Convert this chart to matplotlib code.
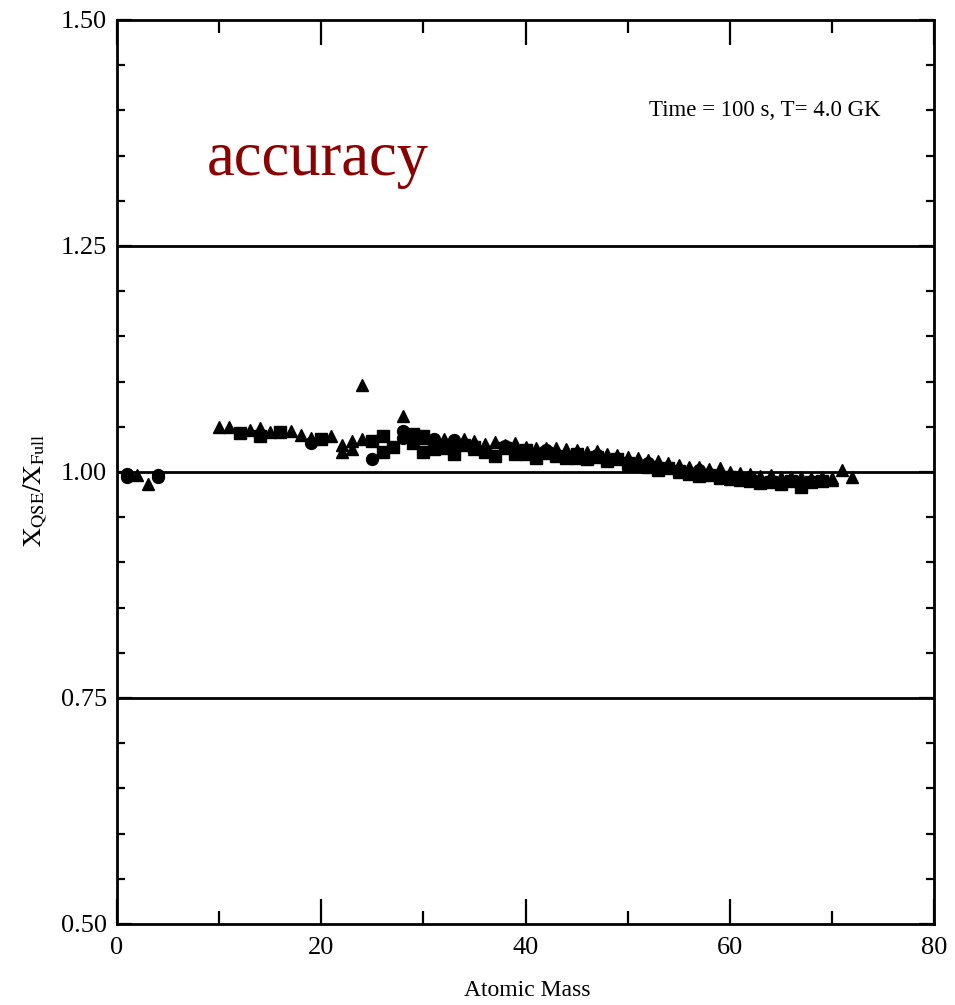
import matplotlib
matplotlib.use("Agg")
import matplotlib.pyplot as plt
from matplotlib.ticker import MultipleLocator

plt.rcParams['font.family'] = ['Liberation Serif', 'DejaVu Serif']
plt.rcParams['mathtext.fontset'] = 'stix'

# ---- data ----
tri_A = [2, 3,
         10, 11, 13, 14, 15, 17, 18, 19, 21, 22, 22, 23, 23, 24, 24, 28,
         30, 31, 32, 33, 34, 35, 36, 37, 38, 39, 40, 41, 42, 43, 44, 45,
         46, 47, 48, 49, 50, 51, 52, 53, 54, 55, 56, 57, 58, 59, 60, 61,
         62, 63, 64, 65, 66, 67, 68, 69, 70, 71, 72,
         35, 40, 45, 50, 55, 60, 65, 70]
tri_y = [0.997, 0.987,
         1.050, 1.050, 1.047, 1.049, 1.044, 1.045, 1.041, 1.038, 1.040, 1.030, 1.022, 1.034, 1.025, 1.036, 1.096, 1.062,
         1.038, 1.036, 1.037, 1.033, 1.036, 1.034, 1.031, 1.033, 1.030, 1.032, 1.028, 1.027, 1.026, 1.027, 1.025, 1.024,
         1.022, 1.023, 1.020, 1.019, 1.017, 1.015, 1.013, 1.012, 1.010, 1.008, 1.006, 1.005, 1.003, 1.004, 1.000, 0.999,
         0.998, 0.996, 0.997, 0.995, 0.994, 0.995, 0.993, 0.994, 0.993, 1.002, 0.994,
         1.025, 1.020, 1.016, 1.008, 1.000, 0.992, 0.988, 0.991]

sq_A = [12, 14, 16, 20, 25, 26, 26, 27, 29, 29, 30, 30, 31, 32, 33, 34, 35, 36,
        37, 38, 39, 40, 41, 42, 43, 44, 45, 46, 47, 48, 49, 50, 51, 52, 53, 54,
        55, 56, 57, 58, 59, 60, 61, 62, 63, 64, 65, 66, 67, 68, 69]
sq_y = [1.043, 1.040, 1.044, 1.036, 1.034, 1.040, 1.022, 1.028, 1.042, 1.032, 1.040, 1.022, 1.025, 1.027, 1.020, 1.030, 1.028, 1.022,
        1.018, 1.026, 1.020, 1.024, 1.015, 1.021, 1.018, 1.015, 1.020, 1.014, 1.017, 1.012, 1.014, 1.010, 1.007, 1.005, 1.002, 1.004,
        1.001, 0.998, 0.996, 0.997, 0.993, 0.995, 0.991, 0.990, 0.988, 0.989, 0.987, 0.990, 0.983, 0.989, 0.990]

circ_A = [1, 1, 4, 4, 19, 25, 28, 28, 31, 33, 38, 42, 47, 52, 57, 62]
circ_y = [0.998, 0.995, 0.994, 0.997, 1.032, 1.014, 1.045, 1.038, 1.037, 1.035, 1.029, 1.024, 1.019, 1.010, 1.002, 0.995]

ref_lines = [0.75, 1.00, 1.25]
x_ticks = [0, 20, 40, 60, 80]
y_ticks = [0.50, 0.75, 1.00, 1.25, 1.50]
y_ticklabels = ['0.50', '0.75', '1.00', '1.25', '1.50']

fig = plt.figure(figsize=(9.55, 10.05), dpi=100)
ax = fig.add_axes([117/955, 1-924/1005, (934-117)/955, (924-20)/1005])

for v in ref_lines:
    ax.axhline(v, color='black', lw=2.0, zorder=1)

ms = 9
ax.plot(sq_A, sq_y, 's', color='black', ms=ms*0.9, zorder=3)
ax.plot(tri_A, tri_y, '^', color='black', ms=ms, zorder=3)
ax.plot(circ_A, circ_y, 'o', color='black', ms=ms*0.95, zorder=3)

ax.set_xlim(0, 80)
ax.set_ylim(0.5, 1.5)
ax.set_xticks(x_ticks)
ax.set_yticks(y_ticks)
ax.set_yticklabels(y_ticklabels)
ax.xaxis.set_minor_locator(MultipleLocator(10))
ax.yaxis.set_minor_locator(MultipleLocator(0.05))

for s in ax.spines.values():
    s.set_linewidth(2.0)

ax.tick_params(axis='x', which='major', direction='in', length=18, width=1.6,
               top=True, bottom=True, labelsize=19, pad=9)
ax.tick_params(axis='x', which='minor', direction='in', length=9.5, width=1.6,
               top=True, bottom=True)
ax.tick_params(axis='y', which='major', direction='in', length=11, width=1.6,
               left=True, right=True, labelsize=19, pad=7)
ax.tick_params(axis='y', which='minor', direction='in', length=6, width=1.6,
               left=True, right=True)

fig.text(527/955, 1-990/1005, 'Atomic Mass', ha='center', va='center', fontsize=17)
fig.text(35/955, 1-490/1005, r'$\mathrm{X_{QSE}/X_{Full}}$', ha='center', va='center',
         rotation=90, fontsize=19)

fig.text(765/955, 1-110/1005, 'Time = 100 s, T= 4.0 GK',
         ha='center', va='center', fontsize=16.5)
fig.text(318/955, 1-160/1005, 'accuracy', ha='center', va='center',
         fontsize=45, color='#8b0000')

fig.savefig('out.png', dpi=100)
